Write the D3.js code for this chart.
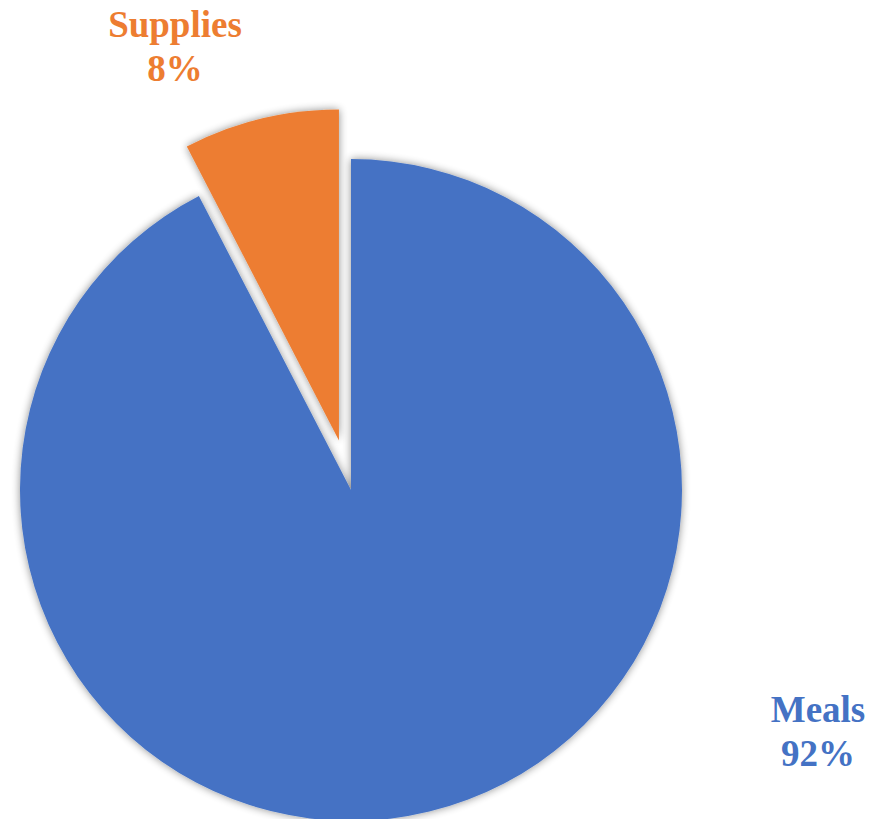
<!DOCTYPE html>
<html>
<head>
<meta charset="utf-8">
<script src="https://cdn.jsdelivr.net/npm/d3@7"></script>
<style>
  html, body { margin: 0; padding: 0; background: #fff; }
  svg { display: block; }
</style>
</head>
<body>
<div id="chart"></div>
<script>
// data (shares; labels round them)
const categories = ['Meals', 'Supplies'];
const values = [92.4, 7.6];
const colors = ['#4472C4', '#ED7D31'];

const W = 882, H = 819;
const cx = 351, cy = 490, R = 331;
const explode = 51;

const svg = d3.select('#chart').append('svg').attr('width', W).attr('height', H);

// soft shadow around slices
const defs = svg.append('defs');
const f = defs.append('filter').attr('id', 'shadow')
  .attr('x', '-10%').attr('y', '-10%').attr('width', '120%').attr('height', '120%');
f.append('feGaussianBlur').attr('in', 'SourceAlpha').attr('stdDeviation', 4).attr('result', 'b');
f.append('feComponentTransfer').attr('in', 'b').attr('result', 's')
  .append('feFuncA').attr('type', 'linear').attr('slope', 0.45);
const m = f.append('feMerge');
m.append('feMergeNode').attr('in', 's');
m.append('feMergeNode').attr('in', 'SourceGraphic');

// Meals starts at 12 o'clock going clockwise, Supplies fills the rest
const pie = d3.pie().sort(null).value(d => d.v);
const arcs = pie(categories.map((c, i) => ({ c, v: values[i], col: colors[i] })));
const arc = d3.arc().innerRadius(0).outerRadius(R);

const g = svg.append('g').attr('transform', `translate(${cx},${cy})`);

g.selectAll('path').data(arcs).join('path')
  .attr('d', arc)
  .attr('fill', d => d.data.col)
  .attr('filter', 'url(#shadow)')
  .attr('transform', d => {
    if (d.data.c !== 'Supplies') return null;
    const a = (d.startAngle + d.endAngle) / 2;
    return `translate(${Math.sin(a) * explode},${-Math.cos(a) * explode})`;
  });

// labels
const total = d3.sum(values);
const labelPos = { Supplies: [175, 37], Meals: [818, 722] };

categories.forEach((c, i) => {
  const [x, y] = labelPos[c];
  const t = svg.append('text')
    .attr('text-anchor', 'middle')
    .attr('font-family', '"Liberation Serif", "Times New Roman", serif')
    .attr('font-weight', 'bold')
    .attr('font-size', '37px')
    .attr('fill', colors[i]);
  t.append('tspan').attr('x', x).attr('y', y).text(c);
  t.append('tspan').attr('x', x).attr('y', y + 44).text(Math.round(values[i] / total * 100) + '%');
});
</script>
</body>
</html>
